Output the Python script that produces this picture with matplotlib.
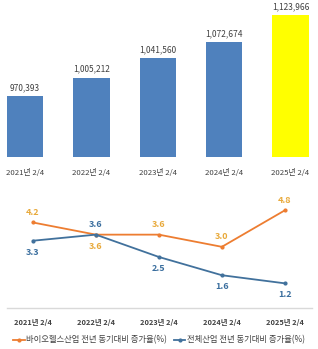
import matplotlib
matplotlib.use("Agg")
import matplotlib.pyplot as plt

plt.rcParams['font.family'] = ['Noto Sans CJK KR', 'DejaVu Sans']

categories = ["2021년 2/4", "2022년 2/4", "2023년 2/4", "2024년 2/4", "2025년 2/4"]
bar_values = [970393, 1005212, 1041560, 1072674, 1123966]
bio_growth = [4.2, 3.6, 3.6, 3.0, 4.8]
all_growth = [3.3, 3.6, 2.5, 1.6, 1.2]
bio_label = "바이오헬스산업 전년 동기대비 증가율(%)"
all_label = "전체산업 전년 동기대비 증가율(%)"

W, H = 318, 349
fig = plt.figure(figsize=(W/100, H/100), dpi=100)

def rect(x0, y0, x1, y1):
    return [x0/W, 1 - y1/H, (x1-x0)/W, (y1-y0)/H]

# Top bar chart
ax1 = fig.add_axes(rect(0, 0, 316, 157))
x = list(range(len(categories)))
colors = ["#4F81BD"] * 4 + ["#FFFF00"]
ax1.bar(x, bar_values, width=0.55, color=colors)
ax1.set_ylim(854700, 1152400)
ax1.set_xlim(-0.377, 4.384)
for xi, v in zip(x, bar_values):
    ax1.annotate(f"{v:,}", (xi, v), xytext=(0, 3), textcoords="offset points",
                 ha="center", va="bottom", fontsize=6, color="#404040")
ax1.set_xticks(x)
ax1.set_xticklabels(categories, fontsize=5.6, color="#404040")
ax1.tick_params(axis='x', length=0, pad=9)
ax1.set_yticks([])
for s in ax1.spines.values():
    s.set_visible(False)

# Bottom line chart
ax2 = fig.add_axes(rect(7, 190, 312, 307.7))
ax2.plot(x, bio_growth, color="#ED7D31", lw=1.3, marker='o', ms=2, label=bio_label)
ax2.plot(x, all_growth, color="#41719C", lw=1.3, marker='o', ms=2, label=all_label)
ax2.set_ylim(0, 5.8)
ax2.set_xlim(-0.41, 4.43)
gold = "#E8A93A"
blue = "#3A6E9E"
bio_pos = ["above", "below", "above", "above", "above"]
for xi, v, p in zip(x, bio_growth, bio_pos):
    off = 4 if p == "above" else -5
    ax2.annotate(f"{v:.1f}", (xi, v), xytext=(0, off), textcoords="offset points",
                 ha="center", va="bottom" if p == "above" else "top",
                 fontsize=6.5, color=gold, fontweight="bold")
all_pos = ["below", "above", "below", "below", "below"]
for xi, v, p in zip(x, all_growth, all_pos):
    off = 4 if p == "above" else -5
    ax2.annotate(f"{v:.1f}", (xi, v), xytext=(0, off), textcoords="offset points",
                 ha="center", va="bottom" if p == "above" else "top",
                 fontsize=6.5, color=blue, fontweight="bold")
ax2.set_xticks(x)
ax2.set_xticklabels(categories, fontsize=5.3, color="#404040", fontweight="bold")
ax2.tick_params(axis='x', length=0, pad=8)
ax2.set_yticks([])
for k in ["top", "left", "right"]:
    ax2.spines[k].set_visible(False)
ax2.spines["bottom"].set_color("#D9D9D9")
ax2.spines["bottom"].set_linewidth(1)

fig.legend(loc="center", bbox_to_anchor=(0.5, 1 - 340/H), ncol=2, frameon=False,
           fontsize=6, handlelength=1.4, columnspacing=0.8, handletextpad=0.2,
           labelcolor="#404040")

fig.savefig("out.png", dpi=100)
